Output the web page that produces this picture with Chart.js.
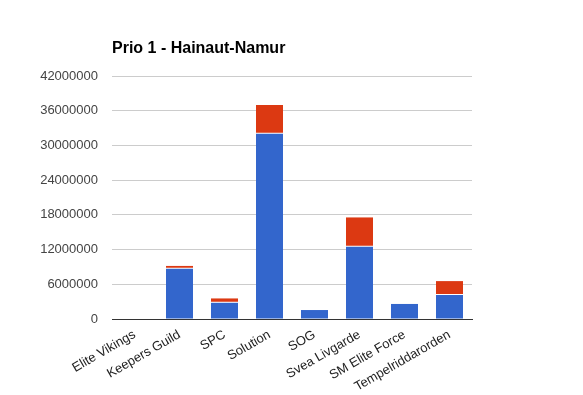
<!DOCTYPE html>
<html>
<head>
<meta charset="utf-8">
<script src="https://cdn.jsdelivr.net/npm/chart.js@4"></script>
<style>
  body { margin: 0; background: #fff; }
  #wrap { width: 583px; height: 395px; }
</style>
</head>
<body>
<div id="wrap"><canvas id="prioChart" width="583" height="395"></canvas></div>
<script>
const categories = ["Elite Vikings", "Keepers Guild", "SPC", "Solution", "SOG", "Svea Livgarde", "SM Elite Force", "Tempelriddarorden"];
const blueValues = [0, 8700000, 2800000, 32000000, 1550000, 12500000, 2600000, 4150000];
const redValues = [0, 500000, 800000, 5000000, 0, 5100000, 0, 2400000];
const yTicks = [0, 6000000, 12000000, 18000000, 24000000, 30000000, 36000000, 42000000];

const titlePlugin = {
  id: 'leftTitle',
  afterDraw(c) {
    const ctx = c.ctx;
    ctx.save();
    ctx.font = "bold 16px 'Liberation Sans', Arial, sans-serif";
    ctx.fillStyle = "#000";
    ctx.textBaseline = "alphabetic";
    ctx.fillText("Prio 1 - Hainaut-Namur", 112, 53);
    ctx.restore();
  }
};

const chartEl = document.getElementById('prioChart').getContext('2d');
const chart = new Chart(chartEl, {
  type: "bar",
  data: {
    labels: categories,
    datasets: [{
      data: blueValues,
      backgroundColor: "#3366cc",
      borderWidth: 0
    }, {
      data: redValues,
      backgroundColor: "#dc3912",
      borderColor: "#ffffff",
      borderWidth: { bottom: 1, top: 0, left: 0, right: 0 },
      borderSkipped: false
    }]
  },
  options: {
    responsive: false,
    animation: false,
    layout: { padding: { top: 76, right: 111, left: 0, bottom: 0 } },
    plugins: {
      legend: { display: false },
      tooltip: { enabled: false }
    },
    datasets: { bar: { categoryPercentage: 1, barPercentage: 0.6 } },
    scales: {
      x: {
        stacked: true,
        grid: { display: false, drawTicks: false },
        border: { display: true, color: "#333333", width: 1 },
        ticks: {
          color: "#222222",
          font: { family: "'Liberation Sans', Arial, sans-serif", size: 13 },
          maxRotation: 30,
          minRotation: 30,
          autoSkip: false,
          padding: 8
        },
        afterFit(scale) { scale.height = 76; }
      },
      y: {
        stacked: true,
        min: 0,
        max: 42000000,
        afterBuildTicks(scale) { scale.ticks = yTicks.map(v => ({ value: v })); },
        grid: { color: "#cccccc", drawTicks: false },
        border: { display: false },
        ticks: {
          color: "#444444",
          font: { family: "'Liberation Sans', Arial, sans-serif", size: 13 },
          padding: 14,
          callback: v => String(v)
        },
        afterFit(scale) { scale.width = 112; }
      }
    }
  },
  plugins: [titlePlugin]
});
</script>
</body>
</html>
